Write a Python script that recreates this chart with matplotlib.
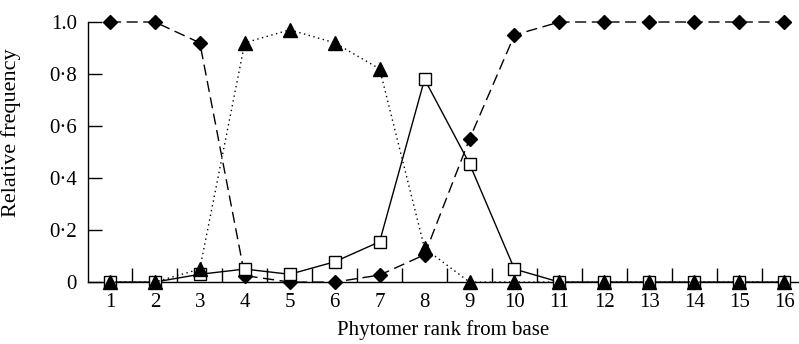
import numpy as np
import matplotlib.pyplot as plt
from matplotlib.ticker import FixedLocator

plt.rcParams['font.family'] = ['Liberation Serif', 'DejaVu Serif']

rank = list(range(1, 17))
# filled diamonds, dashed line
diamond = [1.0, 1.0, 0.92, 0.025, 0.0, 0.0, 0.027, 0.105, 0.55, 0.95,
           1.0, 1.0, 1.0, 1.0, 1.0, 1.0]
# filled triangles, dotted line
triangle = [0.0, 0.0, 0.05, 0.92, 0.97, 0.92, 0.82, 0.13, 0.0, 0.0,
            0.0, 0.0, 0.0, 0.0, 0.0, 0.0]
# open squares, solid line
square = [0.0, 0.0, 0.03, 0.05, 0.03, 0.078, 0.155, 0.78, 0.455, 0.05,
          0.0, 0.0, 0.0, 0.0, 0.0, 0.0]

ytick_vals = [0, 0.2, 0.4, 0.6, 0.8, 1.0]
ytick_labels = ['0', '0·2', '0·4', '0·6', '0·8', '1.0']

fig = plt.figure(figsize=(7.99, 3.44), dpi=100)
ax = fig.add_axes([0.110, 0.180, 0.890, 0.756])

ax.plot(rank, diamond, color='black', linestyle=(0, (8, 4)), linewidth=1.0,
        marker='D', markersize=7.5, markerfacecolor='black', clip_on=False, zorder=3)
ax.plot(rank, triangle, color='black', linestyle=(0, (1, 2.5)), linewidth=1.0,
        marker='^', markersize=9.5, markerfacecolor='black', clip_on=False, zorder=4)
ax.plot(rank, square, color='black', linestyle='-', linewidth=1.0,
        marker='s', markersize=9, markerfacecolor='white', markeredgewidth=1.0,
        clip_on=False, zorder=3)

ax.set_xlim(0.51, 16.33)
ax.set_ylim(0, 1.0)

for s in ['top', 'right']:
    ax.spines[s].set_visible(False)
ax.spines['left'].set_linewidth(1.0)
ax.spines['bottom'].set_linewidth(1.0)

ax.set_xticks(rank)
ax.set_xticklabels([str(r) for r in rank])
ax.xaxis.set_minor_locator(FixedLocator(np.arange(1.5, 16, 1.0)))
ax.tick_params(axis='x', which='major', length=0, pad=8, labelsize=15)
ax.tick_params(axis='x', which='minor', direction='in', length=10, width=1.0)

ax.set_yticks(ytick_vals)
ax.set_yticklabels(ytick_labels)
ax.tick_params(axis='y', which='major', direction='in', length=10, width=1.0,
               pad=8, labelsize=15)

ax.set_xlabel('Phytomer rank from base', fontsize=15, labelpad=6)
ax.set_ylabel('Relative frequency', fontsize=16)
ax.yaxis.set_label_coords(-0.094, 0.575)

fig.savefig('out.png', dpi=100)
